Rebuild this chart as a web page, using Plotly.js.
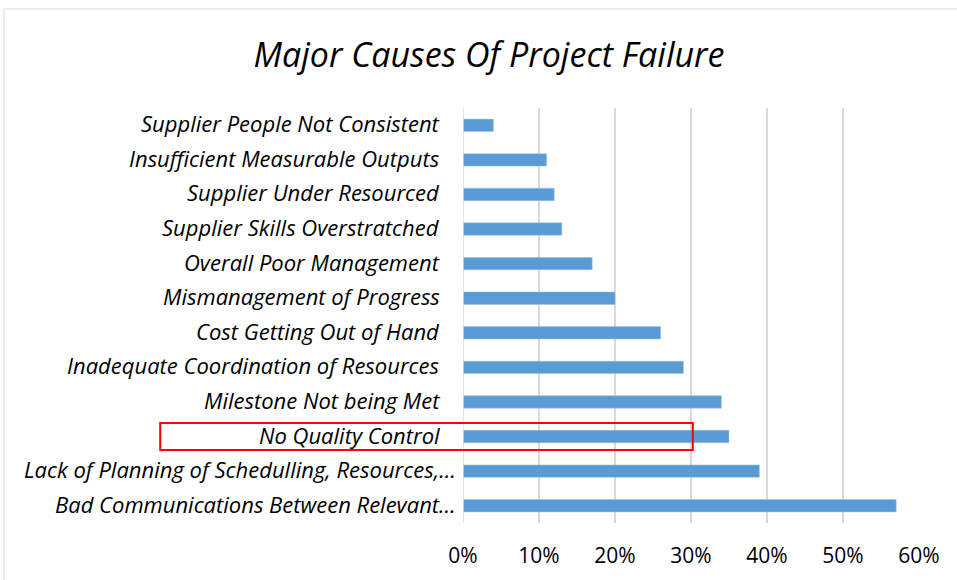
<!DOCTYPE html>
<html>
<head>
<meta charset="utf-8">
<script src="https://cdn.plot.ly/plotly-3.0.1.min.js"></script>
<style>html,body{margin:0;padding:0;background:#fff;}#chart{width:957px;height:580px;}</style>
</head>
<body>
<div id="chart"></div>
<script>
// Categories listed bottom-to-top
const categories = [
  "Bad Communications Between Relevant\u2026",
  "Lack of Planning of Schedulling, Resources,\u2026",
  "No Quality Control",
  "Milestone Not being Met",
  "Inadequate Coordination of Resources",
  "Cost Getting Out of Hand",
  "Mismanagement of Progress",
  "Overall Poor Management",
  "Supplier Skills Overstratched",
  "Supplier Under Resourced",
  "Insufficient Measurable Outputs",
  "Supplier People Not Consistent"
];
const values = [0.57, 0.39, 0.35, 0.34, 0.29, 0.26, 0.20, 0.17, 0.13, 0.12, 0.11, 0.04];
const tickValues = [0, 0.1, 0.2, 0.3, 0.4, 0.5, 0.6];
const tickLabels = ["0%", "10%", "20%", "30%", "40%", "50%", "60%"];
const titleText = "Major Causes Of Project Failure";
const highlighted = "No Quality Control";

const FONT = "Open Sans, Liberation Sans, sans-serif";
const hiIdx = categories.indexOf(highlighted);

const trace = {
  type: "bar",
  orientation: "h",
  x: values,
  y: categories,
  marker: {color: "#5b9bd5", line: {color: "#9dc3e6", width: 0.5}},
  width: 0.36,
  hoverinfo: "x+y"
};

// Category labels as annotations (truncated labels sit a little further right, as in the source)
const labelAnnotations = categories.map(function (c) {
  const truncated = c.endsWith("\u2026");
  return {
    xref: "x", yref: "y", x: 0, y: c,
    text: "<i>" + c + "</i>",
    showarrow: false, xanchor: "right", yanchor: "middle",
    xshift: truncated ? -5 : -21, yshift: 2,
    font: {family: FONT, size: 22, color: "#000000"}
  };
});

const layout = {
  width: 957, height: 580,
  margin: {l: 463, r: 38, t: 108, b: 57},
  paper_bgcolor: "#ffffff",
  plot_bgcolor: "#ffffff",
  showlegend: false,
  title: {
    text: "<i>" + titleText + "</i>",
    font: {family: FONT, size: 34, color: "#000000"},
    xref: "paper", x: 0.057, xanchor: "center",
    yref: "container", y: 0.905, yanchor: "middle"
  },
  xaxis: {
    range: [0, 0.6],
    tickvals: tickValues,
    ticktext: tickLabels,
    showgrid: true, gridcolor: "#d9d9d9", gridwidth: 1.5,
    zeroline: false, showline: false,
    ticks: "outside", ticklen: 14, tickcolor: "rgba(0,0,0,0)",
    tickfont: {family: FONT, size: 21, color: "#000000"},
    fixedrange: true
  },
  yaxis: {
    type: "category",
    categoryorder: "array", categoryarray: categories,
    range: [-0.5, categories.length - 0.5],
    showgrid: false, zeroline: false, showline: false,
    showticklabels: false,
    fixedrange: true
  },
  annotations: labelAnnotations,
  shapes: [
    {type: "line", xref: "x", yref: "paper", x0: 0, x1: 0, y0: 0, y1: 1,
     line: {color: "#d9d9d9", width: 1.5}},
    {type: "rect", xref: "paper", yref: "paper", x0: -1.0066, x1: 2, y0: -1, y1: 1.2386,
     line: {color: "#d9d9d9", width: 1}, fillcolor: "rgba(0,0,0,0)", layer: "below"},
    {type: "rect", xref: "paper", yref: "y", x0: -0.664, x1: 0.504, y0: hiIdx - 0.39, y1: hiIdx + 0.39,
     line: {color: "#ff0000", width: 2}, fillcolor: "rgba(0,0,0,0)", layer: "above"}
  ]
};

Plotly.newPlot("chart", [trace], layout, {displayModeBar: false, staticPlot: true});
</script>
</body>
</html>
